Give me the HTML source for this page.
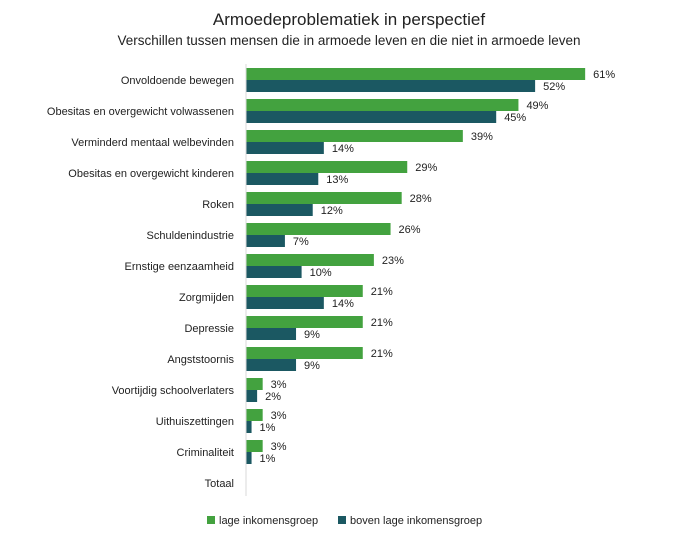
<!DOCTYPE html>
<html><head><meta charset="utf-8"><style>
body{margin:0;background:#fff;font-family:"Liberation Sans",sans-serif;}
svg text{font-family:"Liberation Sans",sans-serif;fill:#222;}
</style></head><body>
<svg width="698" height="539">
<text x="349" y="25" text-anchor="middle" font-size="17">Armoedeproblematiek in perspectief</text>
<text x="349" y="45" text-anchor="middle" font-size="13.5">Verschillen tussen mensen die in armoede leven en die niet in armoede leven</text>
<g id="bars"></g>
<line x1="246" y1="64" x2="246" y2="496" stroke="#d9d9d9"/>
<g>
<rect x="207" y="516" width="8" height="8" fill="#43a23f"/>
<text x="219" y="524" font-size="11">lage inkomensgroep</text>
<rect x="338" y="516" width="8" height="8" fill="#1b5862"/>
<text x="350" y="524" font-size="11">boven lage inkomensgroep</text>
</g>
</svg>
<script>
const categories=["Onvoldoende bewegen","Obesitas en overgewicht volwassenen","Verminderd mentaal welbevinden","Obesitas en overgewicht kinderen","Roken","Schuldenindustrie","Ernstige eenzaamheid","Zorgmijden","Depressie","Angststoornis","Voortijdig schoolverlaters","Uithuiszettingen","Criminaliteit","Totaal"];
const lowIncome=[61,49,39,29,28,26,23,21,21,21,3,3,3,null];
const aboveLow=[52,45,14,13,12,7,10,14,9,9,2,1,1,null];
const NS="http://www.w3.org/2000/svg";
const x0=246,pxPer=5.56,rowTop=68,rowStep=31,bh=12;
const xs=v=>x0+v*pxPer;
const g=document.getElementById('bars');
function mk(t,a){const e=document.createElementNS(NS,t);for(const k in a)e.setAttribute(k,a[k]);g.appendChild(e);return e;}
categories.forEach((c,i)=>{
  const y=rowTop+i*rowStep;
  const lbl=mk('text',{x:234,y:y+16,'text-anchor':'end','font-size':11});
  lbl.textContent=c;
  
  
  [[lowIncome[i],'#43a23f',y,'bar-low'],[aboveLow[i],'#1b5862',y+bh,'bar-above']].forEach(([v,col,by,nm])=>{
    if(v==null)return;
    const r=mk('rect',{x:x0,y:by,width:xs(v)-x0,height:bh,fill:col});
    
    
    const t=mk('text',{x:xs(v)+8,y:by+10,'font-size':11});
    t.textContent=v+'%';
    
    
  });
});
</script>
</body></html>
